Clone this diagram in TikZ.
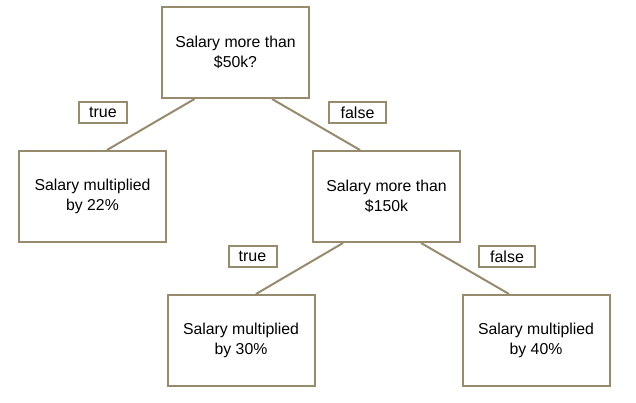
\documentclass[tikz,border=0pt]{standalone}
\usepackage{fontspec}
\setmainfont{Liberation Sans}
\definecolor{treeline}{RGB}{150,139,109}
\tikzset{
  decision/.style={draw=treeline, line width=2pt, minimum width=147pt, minimum height=91pt,
    align=center, inner sep=0pt, font=\fontsize{15.8}{19.5}\selectfont},
  branch/.style={draw=treeline, line width=2pt, minimum height=21pt, minimum width=#1, inner xsep=3pt, inner ysep=0pt,
    font=\fontsize{16}{17}\selectfont},
  branch/.default=20pt,
  link/.style={draw=treeline, line width=2pt}
}

\begin{document}
\begin{tikzpicture}[x=1pt, y=-1pt]
  \useasboundingbox (0,0) rectangle (636,403);
  \node[decision] (q50) at (235.5,52.5) {Salary more than\\\$50k?};
  \node[decision] (r22) at (92.5,196.5) {Salary multiplied\\by 22\%};
  \node[decision] (q150) at (386.5,196.5) {Salary more than\\\$150k};
  \node[decision] (r30) at (241,340.5) {Salary multiplied\\by 30\%};
  \node[decision] (r40) at (536,340.5) {Salary multiplied\\by 40\%};
  \node[branch=48pt] (t1) at (103,112.5) {true};
  \node[branch=57pt] (f1) at (357.5,112.5) {false};
  \node[branch=48pt] (t2) at (252.5,256.5) {true};
  \node[branch=56pt] (f2) at (507,256.5) {false};
  \path[link]
  ([xshift=-41pt]q50.south) edge ([xshift=14.5pt]r22.north)
  ([xshift=36.5pt]q50.south) edge ([xshift=-26.5pt]q150.north)
  ([xshift=-43.5pt]q150.south) edge ([xshift=15pt]r30.north)
  ([xshift=34.5pt]q150.south) edge ([xshift=-27pt]r40.north)
  ;
\end{tikzpicture}
\end{document}
